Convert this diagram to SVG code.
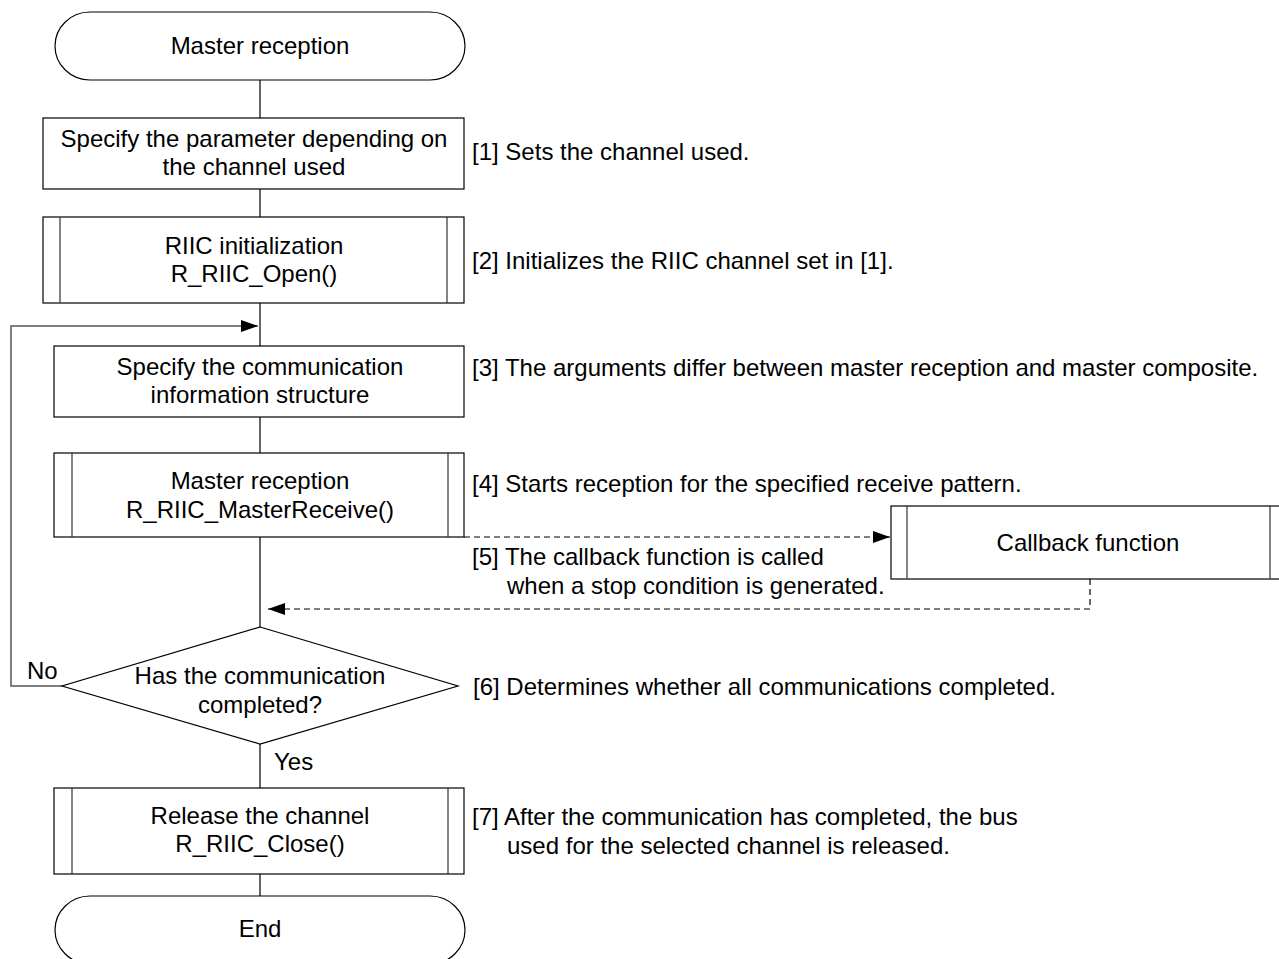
<svg xmlns="http://www.w3.org/2000/svg" width="1279" height="959" viewBox="0 0 1279 959">
<style>
text{font-family:"Liberation Sans",Arial,sans-serif;font-size:24px;fill:#000}
.c{text-anchor:middle}
.shape{fill:#fff;stroke:#000;stroke-width:1.2}
.inner{fill:none;stroke:#333;stroke-width:1.2}
.line{fill:none;stroke:#000;stroke-width:1.2}
.loop{fill:none;stroke:#555;stroke-width:1.5}
.dash{fill:none;stroke:#000;stroke-width:1.2;stroke-dasharray:6 4}
</style>
<defs>
<marker id="arr" markerWidth="18" markerHeight="12" refX="17" refY="6" orient="auto" markerUnits="userSpaceOnUse">
<path d="M0,0 L17,6 L0,12 Z" fill="#000"/>
</marker>
</defs>
<g id="connectors">
<line class="line" x1="260" y1="80" x2="260" y2="118"/>
<line class="line" x1="260" y1="189" x2="260" y2="217"/>
<line class="line" x1="260" y1="303" x2="260" y2="346"/>
<line class="line" x1="260" y1="417" x2="260" y2="453"/>
<line class="line" x1="260" y1="537" x2="260" y2="627"/>
<line class="line" x1="260" y1="744" x2="260" y2="788"/>
<line class="line" x1="260" y1="874" x2="260" y2="896"/>
<polyline class="loop" points="62,686 11,686 11,326 258,326" marker-end="url(#arr)"/>
<line class="dash" x1="464" y1="537" x2="890" y2="537" marker-end="url(#arr)"/>
<polyline class="dash" points="1090,579 1090,609 268,609" marker-end="url(#arr)"/>
<text x="27" y="679">No</text>
<text x="274" y="770">Yes</text>
</g>
<g id="start">
<path class="shape" d="M90,12 H430 A35,34 0 0 1 430,80 H90 A35,34 0 0 1 90,12 Z"/>
<text class="c" x="260" y="54">Master reception</text>
</g>
<g id="step1">
<rect class="shape" x="43" y="118" width="421" height="71"/>
<text class="c" x="254" y="147">Specify the parameter depending on</text>
<text class="c" x="254" y="175">the channel used</text>
<text x="472" y="160">[1] Sets the channel used.</text>
</g>
<g id="step2">
<rect class="shape" x="43" y="217" width="421" height="86"/>
<line class="inner" x1="60" y1="217" x2="60" y2="303"/>
<line class="inner" x1="447" y1="217" x2="447" y2="303"/>
<text class="c" x="254" y="254">RIIC initialization</text>
<text class="c" x="254" y="282">R_RIIC_Open()</text>
<text x="472" y="269">[2] Initializes the RIIC channel set in [1].</text>
</g>
<g id="step3">
<rect class="shape" x="54" y="346" width="410" height="71"/>
<text class="c" x="260" y="375">Specify the communication</text>
<text class="c" x="260" y="403">information structure</text>
<text x="472" y="376">[3] The arguments differ between master reception and master composite.</text>
</g>
<g id="step4">
<rect class="shape" x="54" y="453" width="410" height="84"/>
<line class="inner" x1="72" y1="453" x2="72" y2="537"/>
<line class="inner" x1="448" y1="453" x2="448" y2="537"/>
<text class="c" x="260" y="489">Master reception</text>
<text class="c" x="260" y="518">R_RIIC_MasterReceive()</text>
<text x="472" y="492">[4] Starts reception for the specified receive pattern.</text>
</g>
<g id="note5">
<text x="472" y="565">[5] The callback function is called</text>
<text x="507" y="594">when a stop condition is generated.</text>
</g>
<g id="callback">
<rect class="shape" x="891" y="506" width="395" height="73"/>
<line class="inner" x1="907" y1="506" x2="907" y2="579"/>
<line class="inner" x1="1270" y1="506" x2="1270" y2="579"/>
<text class="c" x="1088" y="551">Callback function</text>
</g>
<g id="decision">
<polygon class="shape" points="260,627 458,686 260,744 62,686"/>
<text class="c" x="260" y="684">Has the communication</text>
<text class="c" x="260" y="713">completed?</text>
<text x="473" y="695">[6] Determines whether all communications completed.</text>
</g>
<g id="step7">
<rect class="shape" x="54" y="788" width="410" height="86"/>
<line class="inner" x1="72" y1="788" x2="72" y2="874"/>
<line class="inner" x1="448" y1="788" x2="448" y2="874"/>
<text class="c" x="260" y="824">Release the channel</text>
<text class="c" x="260" y="852">R_RIIC_Close()</text>
<text x="472" y="825">[7] After the communication has completed, the bus</text>
<text x="507" y="854">used for the selected channel is released.</text>
</g>
<g id="end">
<path class="shape" d="M90,896 H430 A35,34 0 0 1 430,964 H90 A35,34 0 0 1 90,896 Z"/>
<text class="c" x="260" y="937">End</text>
</g>
</svg>
